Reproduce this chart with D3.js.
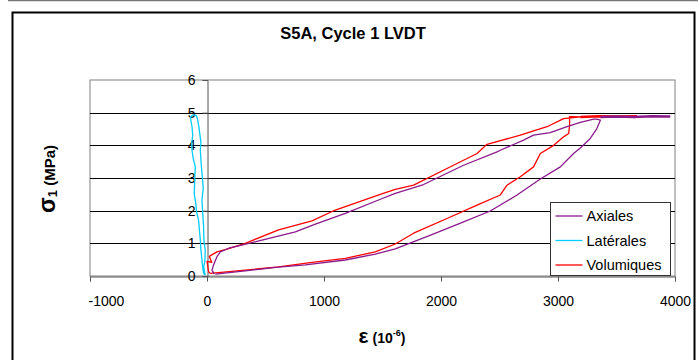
<!DOCTYPE html>
<html>
<head>
<meta charset="utf-8">
<script src="https://cdn.jsdelivr.net/npm/d3@7"></script>
<style>
  body { margin: 0; background: #fff; }
  text { font-family: "Liberation Sans", Arial, sans-serif; }
</style>
</head>
<body>
<svg id="chart"></svg>
<script>
// strain in 10^-6, stress in MPa
const axialStrain = [71, 327, 612, 840, 1182, 1438, 1609, 1911, 2193, 2421, 2650, 2849, 3020, 3133, 3191, 3276, 3333, 3362,
  3330, 3305, 3191, 3077, 2934, 2791, 2706, 2507, 2479, 2193, 1851, 1609, 1482, 1182, 926, 755, 470, 270, 185, 114, 85, 56, 43, 60,
  3362, 3500, 3650, 3800, 3960];
const axialStress = [0.06, 0.16, 0.27, 0.34, 0.49, 0.67, 0.83, 1.25, 1.66, 1.99, 2.48, 2.97, 3.34, 3.75, 3.92, 4.21, 4.52, 4.77,
  4.80, 4.80, 4.70, 4.57, 4.39, 4.31, 4.16, 3.85, 3.80, 3.39, 2.80, 2.53, 2.35, 1.92, 1.59, 1.35, 1.10, 0.92, 0.85, 0.74, 0.59, 0.34, 0.18, 0.06,
  4.87, 4.88, 4.87, 4.89, 4.88];
// the plateau is drawn as its own run
const axialBreak = 42;

const latStrain = [-15, -22, -29, -18, -15, -26, -29, -36, -43, -32, -43, -50, -57, -52, -70, -78, -85, -90, -100, -112, -128,
  -140, -135, -128, -122, -130, -128, -118, -100, -104, -109, -95, -88, -72, -66, -57, -52, -43, -38, -29, -20];
const latStress = [0.03, 0.15, 0.28, 0.45, 0.80, 1.05, 1.51, 1.90, 2.32, 2.70, 3.14, 3.45, 3.85, 4.10, 4.57, 4.75, 4.85, 4.90, 4.92, 4.93, 4.92,
  4.85, 4.70, 4.57, 4.30, 4.10, 3.85, 3.60, 3.34, 3.00, 2.53, 2.20, 1.95, 1.71, 1.45, 1.10, 0.80, 0.49, 0.30, 0.09, 0.02];

const volStrain = [28, 327, 612, 897, 1182, 1438, 1609, 1766, 2051, 2308, 2507, 2564, 2678, 2791, 2849, 2963, 3048, 3091, 3099, 3099,
  3191, 3048, 2906, 2678, 2393, 2308, 2051, 1766, 1609, 1481, 1097, 897, 612, 327, 171, 85, 20, 40, 0, 14, 28,
  3191, 3350, 3500, 3675];
const volStress = [0.08, 0.18, 0.28, 0.42, 0.54, 0.74, 0.98, 1.31, 1.76, 2.17, 2.48, 2.78, 3.04, 3.34, 3.75, 4.00, 4.26, 4.36, 4.60, 4.88,
  4.87, 4.82, 4.57, 4.31, 4.03, 3.75, 3.29, 2.78, 2.65, 2.50, 2.02, 1.69, 1.41, 1.00, 0.82, 0.74, 0.60, 0.42, 0.45, 0.13, 0.08,
  4.87, 4.89, 4.88, 4.89];
const volBreak = 41;

const xTicks = [-1000, 0, 1000, 2000, 3000, 4000];
const yTicks = [0, 1, 2, 3, 4, 5, 6];
const seriesNames = ["Axiales", "Latérales", "Volumiques"];
const seriesColors = ["#8B1A8B", "#00CCFF", "#FF0000"];

const W = 698, H = 360;
const margin = {top: 80, right: 23, bottom: 84, left: 90};

const svg = d3.select("#chart").attr("width", W).attr("height", H);

// chart frame
svg.append("line").attr("x1", 8).attr("x2", W).attr("y1", 0.5).attr("y2", 0.5)
  .attr("stroke", "#777").attr("stroke-width", 1.5);
svg.append("rect").attr("x", 12.5).attr("y", 12.5).attr("width", 682).attr("height", 400)
  .attr("fill", "none").attr("stroke", "#000").attr("stroke-width", 2);

const x = d3.scaleLinear().domain([-1000, 4000]).range([margin.left, W - margin.right]);
const y = d3.scaleLinear().domain([0, 6]).range([H - margin.bottom, margin.top]);

// plot area + grid
svg.append("rect")
  .attr("x", x(-1000)).attr("y", y(6))
  .attr("width", x(4000) - x(-1000)).attr("height", y(0) - y(6))
  .attr("fill", "#fff").attr("stroke", "#808080");

svg.append("g").selectAll("line").data(yTicks.filter(d => d > 0 && d < 6)).join("line")
  .attr("x1", x(-1000)).attr("x2", x(4000))
  .attr("y1", d => Math.round(y(d)) + 0.5).attr("y2", d => Math.round(y(d)) + 0.5)
  .attr("stroke", "#000");

// axes through the origin
const xAxis = d3.axisBottom(x).tickValues(xTicks).tickSize(5).tickFormat(d => String(d));
const gx = svg.append("g").attr("transform", `translate(0,${Math.round(y(0)) + 0.5})`).call(xAxis);
gx.select(".domain").attr("stroke", "#555");
gx.selectAll(".tick line").attr("stroke", "#555");
gx.selectAll(".tick text").attr("dy", "1.55em").attr("font-size", 14).attr("fill", "#000")
  .attr("font-family", "Liberation Sans, Arial, sans-serif");
// the first label sits just inside the plot edge
gx.selectAll(".tick text").filter(d => d === -1000).attr("text-anchor", "start").attr("x", -2);

const yAxis = d3.axisLeft(y).tickValues(yTicks).tickSize(5).tickFormat(d => String(d));
const gy = svg.append("g").attr("transform", `translate(${Math.round(x(0)) + 0.5},0)`).call(yAxis);
gy.select(".domain").attr("stroke", "#555");
gy.selectAll(".tick line").attr("stroke", "#555");
gy.selectAll(".tick text").attr("x", -12).attr("font-size", 14).attr("fill", "#000")
  .attr("font-family", "Liberation Sans, Arial, sans-serif");

// curves
const line = d3.line().x(d => x(d[0])).y(d => y(d[1]));
function pts(xs, ys, from, to) {
  return d3.range(from, to).map(i => [xs[i], ys[i]]);
}
const runs = [
  [pts(volStrain, volStress, 0, volBreak), 2],
  [pts(volStrain, volStress, volBreak, volStrain.length), 2],
  [pts(axialStrain, axialStress, 0, axialBreak), 0],
  [pts(axialStrain, axialStress, axialBreak, axialStrain.length), 0],
  [pts(latStrain, latStress, 0, latStrain.length), 1]
];
svg.append("g").selectAll("path").data(runs).join("path")
  .attr("d", d => line(d[0]))
  .attr("fill", "none")
  .attr("stroke", d => seriesColors[d[1]])
  .attr("stroke-width", d => d[0].length < 8 ? 2.5 : 1.3)
  .attr("stroke-linejoin", "round");

// legend
const lg = svg.append("g").attr("transform", "translate(550.5,202.5)");
lg.append("rect").attr("width", 120).attr("height", 73).attr("fill", "#fff").attr("stroke", "#333");
seriesNames.forEach((name, i) => {
  const yy = 13.5 + i * 24.5;
  lg.append("line").attr("x1", 5).attr("x2", 32).attr("y1", yy).attr("y2", yy)
    .attr("stroke", seriesColors[i]).attr("stroke-width", 1.3);
  lg.append("text").attr("x", 36).attr("y", yy + 5).attr("font-size", 14.5).text(name);
});

// title and axis labels
svg.append("text").attr("x", 353).attr("y", 39).attr("text-anchor", "middle")
  .attr("font-size", 16.5).attr("font-weight", "bold").text("S5A, Cycle 1 LVDT");

const yl = svg.append("text").attr("transform", "translate(55,179) rotate(-90)")
  .attr("text-anchor", "middle").attr("font-weight", "bold");
yl.append("tspan").attr("font-size", 23).text("σ");
yl.append("tspan").attr("font-size", 13).attr("dy", 2).text("1");
yl.append("tspan").attr("font-size", 15).attr("dy", -2).text(" (MPa)");

const xl = svg.append("text").attr("x", 382).attr("y", 343).attr("text-anchor", "middle")
  .attr("font-weight", "bold");
xl.append("tspan").attr("font-size", 21).text("ε");
xl.append("tspan").attr("font-size", 14).text("  (10");
xl.append("tspan").attr("font-size", 9).attr("dy", -7).text("-6");
xl.append("tspan").attr("font-size", 14).attr("dy", 7).text(")");
</script>
</body>
</html>
